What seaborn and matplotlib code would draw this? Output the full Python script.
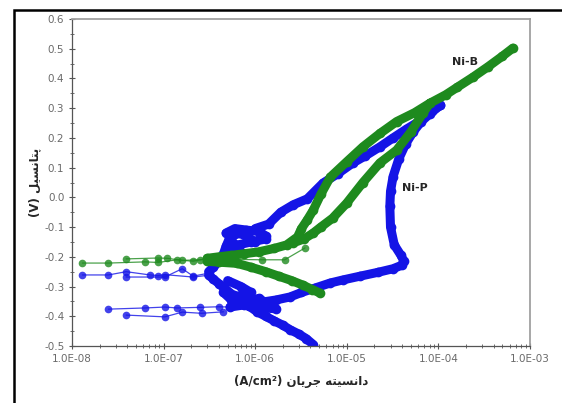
import numpy as np
import pandas as pd
import seaborn as sns
import matplotlib.pyplot as plt
from matplotlib.patches import Rectangle
from matplotlib.ticker import FixedLocator, FuncFormatter, LogLocator, NullFormatter, MultipleLocator

# Ni-P (blue) polarisation curve: current (A/cm2), potential (V)
nip_cath_i = [4.3e-6, 3.6e-6, 3.0e-6, 2.4e-6, 2.0e-6, 1.6e-6, 1.3e-6, 1.05e-6, 8.5e-7, 7e-7, 5.8e-7, 4.8e-7, 4.0e-7, 3.5e-7, 3.1e-7]
nip_cath_v = [-0.495, -0.475, -0.46, -0.445, -0.43, -0.415, -0.40, -0.385, -0.365, -0.35, -0.33, -0.31, -0.29, -0.275, -0.262]
nip_up_i = [3.1e-7, 3.5e-7, 4.0e-7, 4.5e-7, 4.8e-7, 5.2e-7, 6.5e-7, 8e-7, 1.0e-6, 1.3e-6, 1.0e-6, 1.4e-6, 1.9e-6, 2.6e-6, 3.7e-6, 5.5e-6, 8e-6, 1.17e-5, 1.6e-5, 2.3e-5, 3.2e-5, 4.5e-5, 6.5e-5, 8.5e-5, 1.05e-4]
nip_up_v = [-0.25, -0.235, -0.215, -0.19, -0.165, -0.14, -0.12, -0.13, -0.15, -0.13, -0.105, -0.09, -0.05, -0.025, -0.005, 0.048, 0.08, 0.116, 0.14, 0.17, 0.20, 0.23, 0.26, 0.29, 0.31]
nip_back_i = [1.05e-4, 8e-5, 6.5e-5, 5.3e-5, 4.4e-5, 3.7e-5, 3.2e-5, 3.0e-5, 2.95e-5, 3.0e-5, 3.3e-5, 3.9e-5, 4.2e-5, 4.0e-5, 3.2e-5, 2.2e-5, 1.4e-5, 9e-6, 6.6e-6, 4.5e-6, 3.2e-6, 2.4e-6, 1.7e-6, 1.05e-6, 7.5e-7, 5.3e-7]
nip_back_v = [0.31, 0.28, 0.255, 0.22, 0.18, 0.13, 0.07, 0.02, -0.03, -0.10, -0.16, -0.195, -0.215, -0.228, -0.24, -0.252, -0.265, -0.278, -0.288, -0.305, -0.32, -0.335, -0.345, -0.355, -0.362, -0.369]
# scattered clusters of Ni-P points near the crossings
nip_blob1_i = [4.8e-7, 6e-7, 8e-7, 1.1e-6, 1.3e-6, 9e-7, 6.5e-7, 5e-7, 7e-7, 5.5e-7, 4.5e-7]
nip_blob1_v = [-0.12, -0.105, -0.11, -0.115, -0.14, -0.15, -0.16, -0.175, -0.185, -0.145, -0.2]
nip_blob2_i = [5e-7, 7e-7, 9e-7, 6e-7, 8e-7, 1.1e-6, 1.4e-6, 1.7e-6, 1.0e-6, 7e-7, 5.5e-7, 4.5e-7]
nip_blob2_v = [-0.28, -0.30, -0.32, -0.335, -0.35, -0.34, -0.36, -0.375, -0.37, -0.36, -0.345, -0.32]

# Ni-B (green) curve
nib_up_i = [6.5e-4, 5e-4, 3.5e-4, 2.4e-4, 1.6e-4, 1.2e-4, 8.1e-5, 5.5e-5, 3.5e-5, 2.3e-5, 1.5e-5, 1.0e-5, 6.6e-6, 5.2e-6, 4.3e-6, 3.7e-6, 3.2e-6, 2.9e-6, 2.2e-6, 1.6e-6, 1.1e-6, 7.5e-7, 5.5e-7, 4e-7, 3e-7]
nib_up_v = [0.502, 0.475, 0.44, 0.405, 0.37, 0.345, 0.317, 0.285, 0.255, 0.215, 0.17, 0.12, 0.068, 0.01, -0.043, -0.076, -0.105, -0.133, -0.16, -0.172, -0.183, -0.19, -0.195, -0.2, -0.205]
nib_low_i = [8.1e-5, 6.8e-5, 5e-5, 3.5e-5, 2.3e-5, 1.5e-5, 1.0e-5, 7e-6, 5.2e-6, 4.3e-6, 3.4e-6, 2.6e-6]
nib_low_v = [0.317, 0.284, 0.22, 0.159, 0.116, 0.05, -0.019, -0.07, -0.10, -0.12, -0.14, -0.153]
nib_cath_i = [3e-7, 4e-7, 6.3e-7, 9e-7, 1.3e-6, 1.8e-6, 2.5e-6, 3.3e-6, 4.2e-6, 5.1e-6]
nib_cath_v = [-0.215, -0.218, -0.222, -0.235, -0.25, -0.265, -0.28, -0.295, -0.31, -0.322]

# low-current tails (thin lines with dots)
tail_i = {
    "nip_a": [1.3e-8, 2.5e-8, 3.9e-8, 7.1e-8, 8.7e-8, 1.03e-7, 2.1e-7, 3.1e-7],
    "nip_b": [3.9e-8, 1.03e-7, 1.6e-7, 2.1e-7, 3.1e-7],
    "nip_c": [2.5e-8, 6.3e-8, 1.03e-7, 1.4e-7, 2.5e-7, 4e-7, 5.3e-7],
    "nip_d": [3.9e-8, 1.03e-7, 1.6e-7, 2.6e-7, 4.5e-7],
    "nib_a": [1.3e-8, 2.5e-8, 6.3e-8, 8.7e-8, 1.4e-7, 2.1e-7, 3e-7],
    "nib_b": [3.9e-8, 8.7e-8, 1.1e-7, 1.6e-7, 2.5e-7, 4e-7, 1.2e-6, 2.1e-6, 3.5e-6],
}
tail_v = {
    "nip_a": [-0.261, -0.261, -0.25, -0.261, -0.263, -0.26, -0.268, -0.262],
    "nip_b": [-0.268, -0.268, -0.24, -0.265, -0.255],
    "nip_c": [-0.376, -0.372, -0.369, -0.372, -0.37, -0.368, -0.369],
    "nip_d": [-0.396, -0.402, -0.386, -0.39, -0.385],
    "nib_a": [-0.221, -0.221, -0.217, -0.219, -0.21, -0.215, -0.205],
    "nib_b": [-0.207, -0.204, -0.205, -0.212, -0.21, -0.208, -0.21, -0.21, -0.17],
}

x_ticks = [1e-8, 1e-7, 1e-6, 1e-5, 1e-4, 1e-3]
y_ticks = [-0.5, -0.4, -0.3, -0.2, -0.1, 0.0, 0.1, 0.2, 0.3, 0.4, 0.5, 0.6]

ylabel_fa = "پتانسیل (V)"
xlabel_fa = "دانسیته جریان (A/cm²)"

colors = {"Ni-P": "#1414e6", "Ni-B": "#1e8a1e"}

# crude Persian shaping so matplotlib draws joined letters right-to-left
FORMS = {
    "ا": ("\ufe8d", "\ufe8e", None, None), "د": ("\ufea9", "\ufeaa", None, None),
    "ر": ("\ufead", "\ufeae", None, None), "ت": ("\ufe95", "\ufe96", "\ufe97", "\ufe98"),
    "ن": ("\ufee5", "\ufee6", "\ufee7", "\ufee8"), "س": ("\ufeb1", "\ufeb2", "\ufeb3", "\ufeb4"),
    "ل": ("\ufedd", "\ufede", "\ufedf", "\ufee0"), "ه": ("\ufee9", "\ufeea", "\ufeeb", "\ufeec"),
    "ج": ("\ufe9d", "\ufe9e", "\ufe9f", "\ufea0"), "ی": ("\ufbfc", "\ufbfd", "\ufbfe", "\ufbff"),
    "پ": ("\ufb56", "\ufb57", "\ufb58", "\ufb59"),
}


def shape_word(w):
    out = []
    for k, ch in enumerate(w):
        if ch not in FORMS:
            out.append(ch)
            continue
        prev = w[k - 1] if k > 0 else None
        nxt = w[k + 1] if k + 1 < len(w) else None
        join_prev = prev in FORMS and FORMS[prev][2] is not None
        join_next = nxt in FORMS and FORMS[ch][2] is not None
        iso, fin, ini, med = FORMS[ch]
        if join_prev and join_next:
            out.append(med)
        elif join_prev:
            out.append(fin)
        elif join_next:
            out.append(ini)
        else:
            out.append(iso)
    return "".join(out)


def rtl(s):
    words = s.split(" ")
    vis = []
    for w in reversed(words):
        if any(c in FORMS for c in w):
            vis.append(shape_word(w)[::-1])
        else:
            vis.append(w)
    return " ".join(vis)


# build tables
rows = []
def add(name, coat, xs, ys):
    for a, b in zip(xs, ys):
        rows.append({"seg": name, "coating": coat, "current": a, "potential": b})

add("p1", "Ni-P", nip_cath_i, nip_cath_v)
add("p2", "Ni-P", nip_up_i, nip_up_v)
add("p3", "Ni-P", nip_back_i, nip_back_v)
add("p4", "Ni-P", nip_blob1_i, nip_blob1_v)
add("p5", "Ni-P", nip_blob2_i, nip_blob2_v)
add("b1", "Ni-B", nib_up_i, nib_up_v)
add("b2", "Ni-B", nib_low_i, nib_low_v)
add("b3", "Ni-B", nib_cath_i, nib_cath_v)
df = pd.DataFrame(rows)

trows = []
for key in tail_i:
    coat = "Ni-P" if key.startswith("nip") else "Ni-B"
    for a, b in zip(tail_i[key], tail_v[key]):
        trows.append({"seg": key, "coating": coat, "current": a, "potential": b})
df_tail = pd.DataFrame(trows)

sns.set_style("white")
fig = plt.figure(figsize=(5.62, 4.03), dpi=100)
ax = fig.add_axes([72 / 562, 1 - 346 / 403, (530 - 72) / 562, (346 - 19) / 403])

# thin tails first, then thick dense bands; Ni-P below Ni-B
for coat in ["Ni-P", "Ni-B"]:
    sub = df_tail[df_tail.coating == coat]
    sns.lineplot(data=sub, x="current", y="potential", units="seg", estimator=None, sort=False,
                 color=colors[coat], lw=0.9, alpha=0.8, marker="o", markersize=5.5,
                 markeredgewidth=0, ax=ax, legend=False)
    sub = df[df.coating == coat]
    sns.lineplot(data=sub, x="current", y="potential", units="seg", estimator=None, sort=False,
                 color=colors[coat], lw=6.5, marker="o", markersize=7, markeredgewidth=0,
                 solid_capstyle="round", solid_joinstyle="round", ax=ax, legend=False)

ax.set_xscale("log")
ax.set_xlim(1e-8, 1e-3)
ax.set_ylim(-0.5, 0.6)
ax.xaxis.set_major_locator(FixedLocator(x_ticks))
ax.xaxis.set_minor_locator(LogLocator(base=10, subs=np.arange(2, 10)))
ax.xaxis.set_minor_formatter(NullFormatter())
ax.xaxis.set_major_formatter(FuncFormatter(lambda v, p: "1.0E%+03d" % round(np.log10(v)) if v < 1 else "1.0E+00"))
ax.yaxis.set_major_locator(FixedLocator(y_ticks))
ax.yaxis.set_minor_locator(MultipleLocator(0.05))
ax.yaxis.set_major_formatter(FuncFormatter(lambda v, p: "%.1f" % (0.0 if abs(v) < 1e-9 else v)))

ax.tick_params(which="major", direction="inout", length=5, width=0.8, color="#555555",
               labelsize=7.5, labelcolor="#6a6a6a", pad=3)
ax.tick_params(which="minor", direction="inout", length=3, width=0.6, color="#555555")
ax.tick_params(axis="x", which="both", bottom=True, top=False)
ax.tick_params(axis="y", which="both", left=True, right=False)
for s in ["left", "bottom"]:
    ax.spines[s].set_color("#555555")
    ax.spines[s].set_linewidth(0.9)
for s in ["top", "right"]:
    ax.spines[s].set_color("#a0a0a0")
    ax.spines[s].set_linewidth(1.3)

ax.set_xlabel(rtl(xlabel_fa), fontsize=8.5, fontweight="bold", labelpad=8, family=["DejaVu Sans"])
ax.set_ylabel(rtl(ylabel_fa), fontsize=8.5, fontweight="bold", labelpad=4, family=["DejaVu Sans"])
ax.yaxis.set_label_coords(-0.068, 0.5)

ax.text(1.95e-4, 0.455, "Ni-B", fontsize=8, fontweight="bold", ha="center", va="center")
ax.text(5.5e-5, 0.031, "Ni-P", fontsize=8, fontweight="bold", ha="center", va="center")

# outer black frame (top and left visible)
fig.patches.append(Rectangle((13.5 / 562, -0.2), 1.2, 1.2 - 9.5 / 403, transform=fig.transFigure,
                             fill=False, edgecolor="black", lw=1.8, zorder=5))

fig.savefig("out.png", dpi=100)
